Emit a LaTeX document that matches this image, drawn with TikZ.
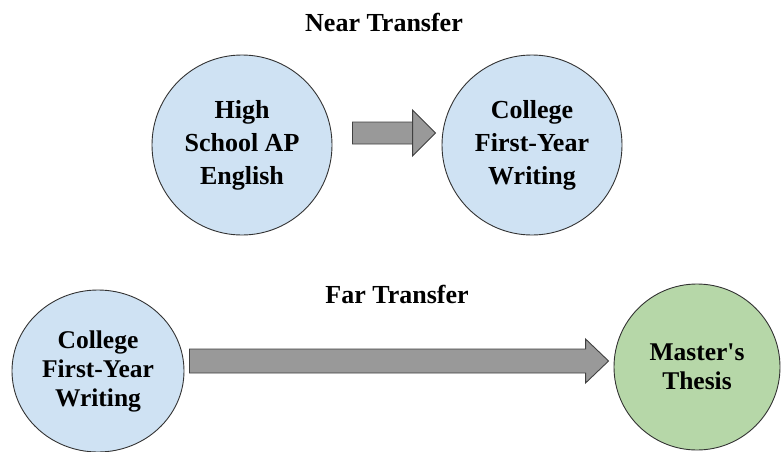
\documentclass[tikz,border=0pt]{standalone}
\usepackage{fontspec}
\setmainfont{Liberation Serif}
\usetikzlibrary{calc,shapes.geometric}

\definecolor{stageblue}{HTML}{CFE2F3}
\definecolor{stagegreen}{HTML}{B6D7A8}
\definecolor{arrowgray}{HTML}{999999}

\tikzset{
  stage/.style={ellipse, draw=black!80, line width=0.9pt, align=center, inner sep=0pt,
    font=\bfseries\fontsize{26}{33}\selectfont},
  lowstage/.style={stage, font=\bfseries\fontsize{25.5}{29}\selectfont},
  heading/.style={anchor=base, font=\bfseries\fontsize{26}{30}\selectfont},
  fatarrow/.style={draw=black!75, fill=arrowgray, line width=0.9pt, line join=miter}
}

\begin{document}
\begin{tikzpicture}[x=1pt,y=-1pt]
  \useasboundingbox (0,0) rectangle (781,452);

  % near transfer
  \node[heading] (near) at (384,32) {Near Transfer};
  \node[stage, fill=stageblue, minimum width=180, minimum height=180] (hsap)
       at (242,145) {High\\School AP\\English};
  \node[stage, fill=stageblue, minimum width=180, minimum height=180] (cfy-near)
       at (532,145) {College\\First-Year\\Writing};

  \path[fatarrow] let \p1=(hsap.east), \p2=(cfy-near.west) in
       (\x1+20pt,\y1+1pt) -- (\x2-29pt,\y1+1pt) -- (\x2-29pt,\y1+35pt) --
       (\x2-6pt,\y1+12pt) -- (\x2-29pt,\y1-11pt) -- (\x2-29pt,\y1+23pt) --
       (\x1+20pt,\y1+23pt) -- cycle;

  % far transfer
  \node[heading] (far) at (397,303) {Far Transfer};
  \node[lowstage, fill=stageblue, minimum width=172, minimum height=162] (cfy-far)
       at (98,371) {College\\First-Year\\Writing};
  \node[lowstage, fill=stagegreen, minimum width=166, minimum height=166] (thesis)
       at (697,367) {Master\textquotesingle s\\Thesis};

  \path[fatarrow] let \p1=(cfy-far.east), \p2=(thesis.west) in
       (\x1+5pt,\y1+22pt) -- (\x2-28pt,\y1+22pt) -- (\x2-28pt,\y1+32pt) --
       (\x2-5pt,\y1+10pt) -- (\x2-28pt,\y1-12pt) -- (\x2-28pt,\y1-2pt) --
       (\x1+5pt,\y1-2pt) -- cycle;
\end{tikzpicture}
\end{document}
